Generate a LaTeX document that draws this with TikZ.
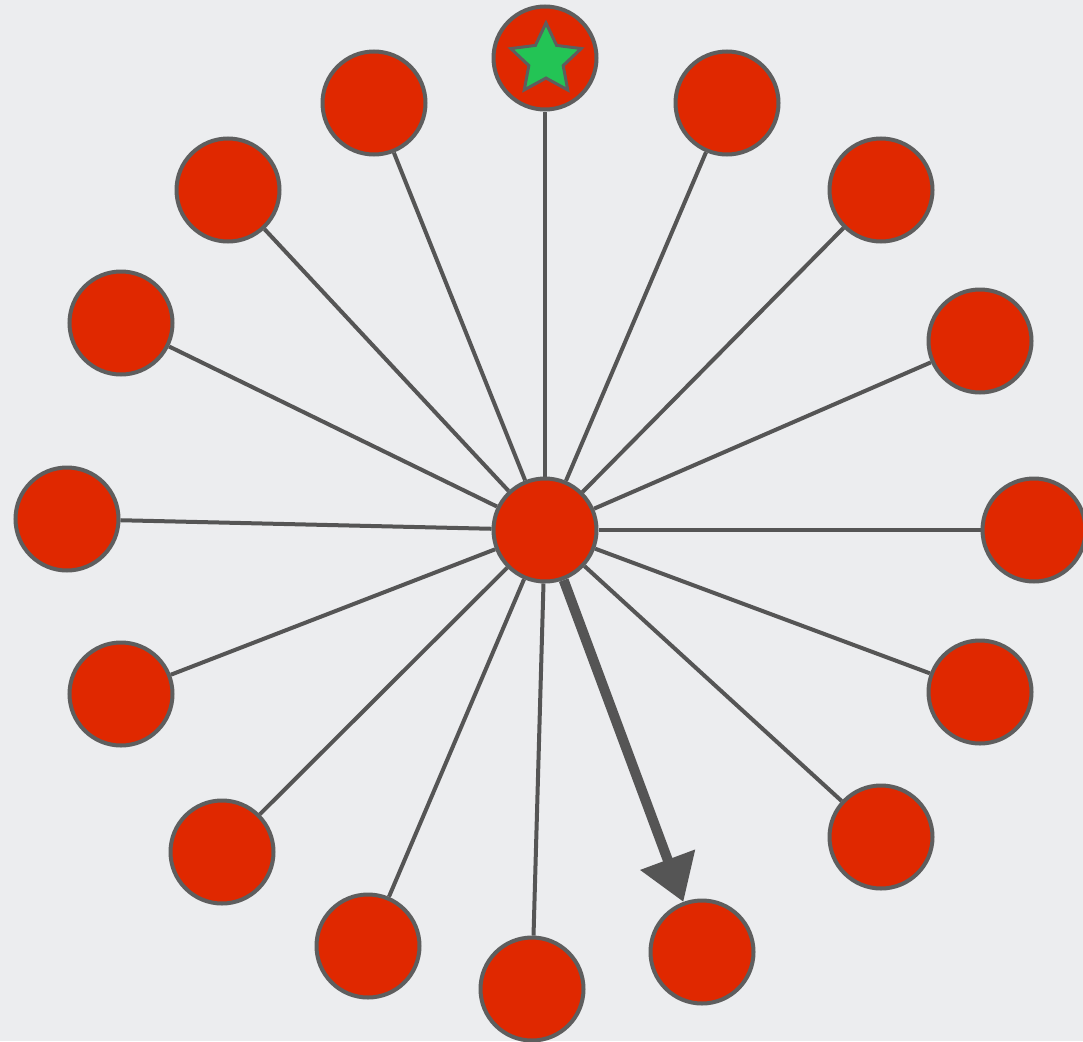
\documentclass[tikz,border=0pt]{standalone}
\usetikzlibrary{shapes.geometric,arrows.meta}
\definecolor{bgc}{HTML}{ECEDEF}
\definecolor{nodered}{HTML}{E02800}
\definecolor{rim}{HTML}{5E5E5E}
\definecolor{edgec}{HTML}{555555}
\definecolor{stargreen}{HTML}{23C455}
\pgfdeclarelayer{bglayer}
\pgfdeclarelayer{edgelayer}
\pgfsetlayers{bglayer,edgelayer,main}
\begin{document}
\begin{tikzpicture}[x=1pt,y=-1pt,
  dot/.style={circle,draw=rim,fill=nodered,line width=4pt,minimum size=103pt,inner sep=0pt},
  spoke/.style={draw=edgec,line width=4pt},
  bigarrow/.style={draw=edgec,line width=10pt,-{Triangle[length=45pt,width=56pt]}},
  starmark/.style={star,star points=5,star point ratio=2.05,draw=rim,fill=stargreen,line width=3pt,minimum size=74pt,inner sep=0pt}]
\begin{pgfonlayer}{bglayer}
\fill[bgc] (0,0) rectangle (1083,1041);
\end{pgfonlayer}
\useasboundingbox (0,0) rectangle (1083,1041);
\node[dot] (c) at (545,530) {};
\node[dot] (n1) at (545,58) {};
\node[starmark] (s) at (546,60) {};
\node[dot] (n2) at (374,103) {};
\node[dot] (n3) at (727,103) {};
\node[dot] (n4) at (228,190) {};
\node[dot] (n5) at (881,190) {};
\node[dot] (n6) at (121,323) {};
\node[dot] (n7) at (980,341) {};
\node[dot] (n8) at (67,519) {};
\node[dot] (n9) at (1034,530) {};
\node[dot] (n10) at (121,694) {};
\node[dot] (n11) at (980,692) {};
\node[dot] (n12) at (222,852) {};
\node[dot] (n13) at (881,837) {};
\node[dot] (n14) at (368,946) {};
\node[dot] (n15) at (532,989) {};
\node[dot] (n16) at (702,952) {};
\begin{pgfonlayer}{edgelayer}
\foreach \i in {1,...,15} {\draw[spoke] (c) -- (n\i);}
\draw[bigarrow] (c) -- (n16);
\end{pgfonlayer}
\end{tikzpicture}
\end{document}
